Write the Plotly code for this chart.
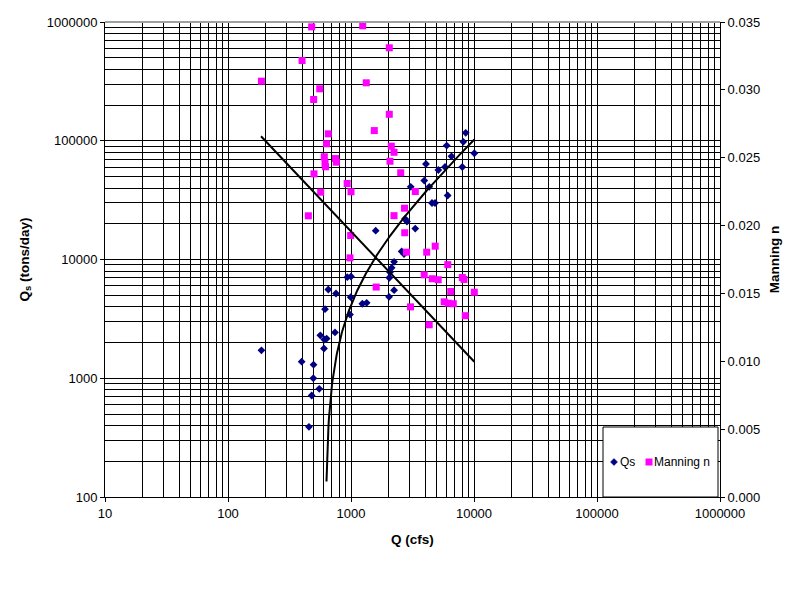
import numpy as np
import plotly.graph_objects as go

# ---- data ----
qs_q = [187, 397, 496, 494, 552, 479, 455, 563, 607, 634, 603, 741, 615, 654, 755,
        933, 1000, 994, 981, 1236, 1341, 1588, 2040, 2050, 2075, 2140, 2240, 2240,
        2580, 2700, 2750, 2850, 3330, 3060, 3940, 4070, 4330, 4555, 4820, 5130,
        5810, 6110, 6000, 6560, 8030, 8190, 8560, 10060]
qs_val = [1720, 1380, 1300, 1000, 815, 716, 390, 2300, 2120, 2160, 1780, 2430, 3820,
          5590, 5170, 7100, 7190, 4820, 3440, 4240, 4320, 17500, 4850, 7020, 7820,
          8510, 9560, 5520, 11700, 11100, 22000, 20900, 18200, 40900, 46200, 63700,
          40900, 29900, 29900, 56700, 60100, 34600, 91100, 74000, 60100, 97900,
          116500, 78500]

n_q = [187, 400, 479, 497, 557, 654, 632, 607, 615, 621, 748, 760, 500, 931, 1000,
       567, 450, 994, 981, 1603, 1245, 1331, 1547, 2048, 2048, 2126, 2237, 2075,
       2536, 3333, 2723, 2237, 2733, 2827, 4125, 4837, 6124, 3937, 4573, 5116,
       8034, 8293, 6465, 10056, 5724, 6182, 6785, 8497, 3046, 4323]
n_val = [0.03064, 0.03216, 0.03464, 0.02929, 0.03008, 0.02676, 0.02603, 0.02507,
         0.02459, 0.02433, 0.02494, 0.02467, 0.02381, 0.02310, 0.02249, 0.02246,
         0.02072, 0.01927, 0.01762, 0.01547, 0.03472, 0.03052, 0.02700, 0.03310,
         0.02820, 0.02585, 0.02540, 0.02474, 0.02389, 0.02251, 0.02128, 0.02073,
         0.01947, 0.01804, 0.01804, 0.01848, 0.01712, 0.01637, 0.01608, 0.01601,
         0.01617, 0.01603, 0.01514, 0.01509, 0.01438, 0.01428, 0.01424, 0.01336,
         0.01401, 0.01269]

# trendlines (coefficients)
qs_trend_slope = 10.85        # linear: Qs = a*Q + b
qs_trend_intercept = -6722.0
qs_trend_range = [632, 10056]
n_trend_a = -0.004163         # logarithmic: n = a*ln(Q) + b
n_trend_b = 0.048329
n_trend_range = [185.5, 10056]

x_tickvals = [10, 100, 1000, 10000, 100000, 1000000]
x_ticktext = ["10", "100", "1000", "10000", "100000", "1000000"]
y_tickvals = [100, 1000, 10000, 100000, 1000000]
y_ticktext = ["100", "1000", "10000", "100000", "1000000"]

FONT = "Liberation Sans, Arial, sans-serif"

qt = np.geomspace(qs_trend_range[0], qs_trend_range[1], 300)
qs_t = qs_trend_slope * qt + qs_trend_intercept
nt_q = np.geomspace(n_trend_range[0], n_trend_range[1], 50)
nt = n_trend_a * np.log(nt_q) + n_trend_b

fig = go.Figure()
fig.add_trace(go.Scatter(x=qs_q, y=qs_val, mode="markers", name="Qs",
                         marker=dict(symbol="diamond", size=6, color="#000080"),
                         yaxis="y"))
fig.add_trace(go.Scatter(x=n_q, y=n_val, mode="markers", name="Manning n",
                         marker=dict(symbol="square", size=7, color="#FF00FF"),
                         yaxis="y2"))
fig.add_trace(go.Scatter(x=qt, y=qs_t, mode="lines", showlegend=False,
                         line=dict(color="black", width=2), yaxis="y"))
fig.add_trace(go.Scatter(x=nt_q, y=nt, mode="lines", showlegend=False,
                         line=dict(color="black", width=2), yaxis="y2"))

L, R, T, B = 105, 80, 22, 92
W, H = 800, 589
pw, ph = W - L - R, H - T - B

def px2paper(x, y):
    return (x - L) / pw, (H - B - y) / ph

fig.update_layout(
    width=W, height=H,
    margin=dict(l=L, r=R, t=T, b=B),
    paper_bgcolor="white", plot_bgcolor="white",
    showlegend=False,
    font=dict(family=FONT, size=13, color="black"),
    xaxis=dict(type="log", range=[1, 6], tickvals=x_tickvals, ticktext=x_ticktext,
               showgrid=True, gridcolor="black", gridwidth=1,
               minor=dict(showgrid=True, gridcolor="black", gridwidth=1, dtick="D1"),
               showline=True, linecolor="black", linewidth=1,
               ticks="outside", ticklen=4, tickcolor="black",
               zeroline=False,
               title=dict(text="<b>Q (cfs)</b>", font=dict(size=13.5), standoff=14)),
    yaxis=dict(type="log", range=[2, 6], tickvals=y_tickvals, ticktext=y_ticktext,
               showgrid=True, gridcolor="black", gridwidth=1,
               minor=dict(showgrid=True, gridcolor="black", gridwidth=1, dtick="D1"),
               showline=True, linecolor="black", linewidth=1,
               ticks="outside", ticklen=4, tickcolor="black",
               zeroline=False,
               title=dict(text="<b>Q<sub>s</sub> (tons/day)</b>", font=dict(size=13.5),
                          standoff=14)),
    yaxis2=dict(overlaying="y", side="right", range=[0, 0.035], dtick=0.005,
                tickformat=".3f", showgrid=False, zeroline=False,
                showline=True, linecolor="black", linewidth=1,
                ticks="outside", ticklen=4, tickcolor="black",
                title=dict(text="<b>Manning n</b>", font=dict(size=13.5), standoff=10)),
)

# top plot-area border (gray)
fig.add_shape(type="line", xref="paper", yref="paper", x0=0, x1=1, y0=1, y1=1,
              line=dict(color="#a0a0a0", width=2))

# legend box
x0, y0 = px2paper(603, 427)
x1, y1 = px2paper(718, 497)
fig.add_shape(type="rect", xref="paper", yref="paper", x0=x0, x1=x1, y0=y1, y1=y0,
              fillcolor="white", line=dict(color="black", width=1), layer="above")
cx, cy = 614, 462
pts = [px2paper(cx - 3.5, cy), px2paper(cx, cy - 3.5), px2paper(cx + 3.5, cy), px2paper(cx, cy + 3.5)]
fig.add_shape(type="path", xref="paper", yref="paper",
              path="M {} {} L {} {} L {} {} L {} {} Z".format(*[v for p in pts for v in p]),
              fillcolor="#000080", line=dict(color="#000080", width=0.5), layer="above")
sx0, sy0 = px2paper(645.5, 458.5)
sx1, sy1 = px2paper(652.5, 465.5)
fig.add_shape(type="rect", xref="paper", yref="paper", x0=sx0, x1=sx1, y0=sy1, y1=sy0,
              fillcolor="#FF00FF", line=dict(color="#FF00FF", width=0), layer="above")
ax, ay = px2paper(619, 462)
fig.add_annotation(xref="paper", yref="paper", x=ax, y=ay, xanchor="left", yanchor="middle",
                   text="Qs", showarrow=False, font=dict(size=12), borderpad=0)
ax, ay = px2paper(653, 462)
fig.add_annotation(xref="paper", yref="paper", x=ax, y=ay, xanchor="left", yanchor="middle",
                   text="Manning n", showarrow=False, font=dict(size=12), borderpad=0)

fig.write_html("out.html")
